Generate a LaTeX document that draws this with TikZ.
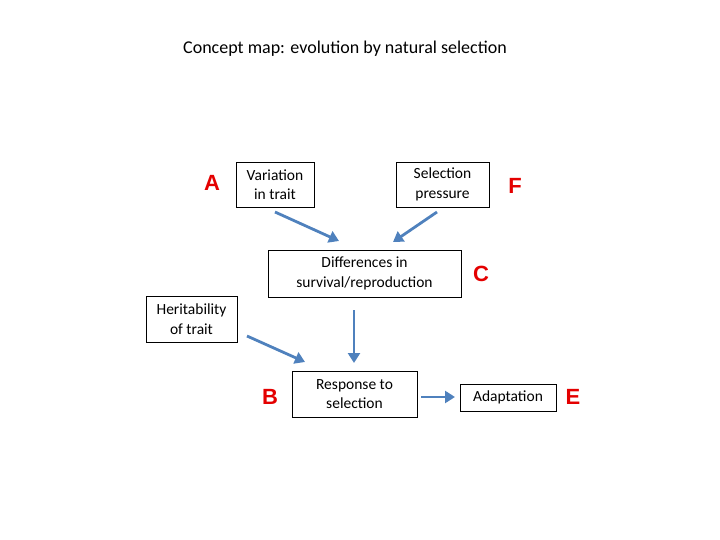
\documentclass[tikz,border=0pt]{standalone}
\usepackage{fontspec}
\setmainfont{Carlito}
\newfontfamily\lblfont{Liberation Sans}
\usetikzlibrary{arrows.meta}
\definecolor{arrowblue}{RGB}{79,129,189}
\definecolor{lblred}{RGB}{228,0,0}
\begin{document}
\begin{tikzpicture}[x=1pt,y=-1pt,
  box/.style={draw=black,line width=0.8pt,fill=white,align=center,font=\fontsize{15.5}{19.5}\selectfont,inner sep=0pt},
  lbl/.style={text=lblred,font=\lblfont\bfseries\fontsize{22}{22}\selectfont},
  arr/.style={draw=arrowblue,line width=2.8pt,-{Triangle[length=10pt,width=12pt]}}]
\useasboundingbox (0,0) rectangle (720,540);
\node (title) at (345,49) {\fontsize{18}{21}\selectfont Concept map: evolution by natural selection};
\node[box,minimum width=78pt,minimum height=45pt] (var) at (275,184.5) {Variation\\in trait};
\node[box,minimum width=93pt,minimum height=45pt] (sel) at (442.5,184.5) {Selection\\pressure};
\node[box,minimum width=193pt,minimum height=47pt] (diff) at (364.5,273.5) {Differences in\\survival/reproduction};
\node[box,minimum width=91pt,minimum height=46pt] (her) at (191.5,319) {Heritability\\of trait};
\node[box,minimum width=125pt,minimum height=46pt] (resp) at (354.5,394) {Response to\\selection};
\node[box,minimum width=96pt,minimum height=27pt] (adap) at (508,397.5) {Adaptation};
\node[lbl] (la) at (212,183) {A};
\node[lbl] (lf) at (515,186) {F};
\node[lbl] (lc) at (481,274) {C};
\node[lbl] (lb) at (270,397) {B};
\node[lbl] (le) at (573,397) {E};
\coordinate (a1s) at (275,212); \coordinate (a1e) at (339,241);
\coordinate (a2s) at (437,212); \coordinate (a2e) at (393,242);
\coordinate (a3s) at (354,310); \coordinate (a3e) at (354,363);
\coordinate (a4s) at (247,336); \coordinate (a4e) at (305,362);
\coordinate (a5s) at (421,397); \coordinate (a5e) at (455,397);
\draw[arr] (a1s) -- (a1e);
\draw[arr] (a2s) -- (a2e);
\draw[arr] (a3s) -- (a3e);
\draw[arr] (a4s) -- (a4e);
\draw[arr] (a5s) -- (a5e);
\end{tikzpicture}
\end{document}
